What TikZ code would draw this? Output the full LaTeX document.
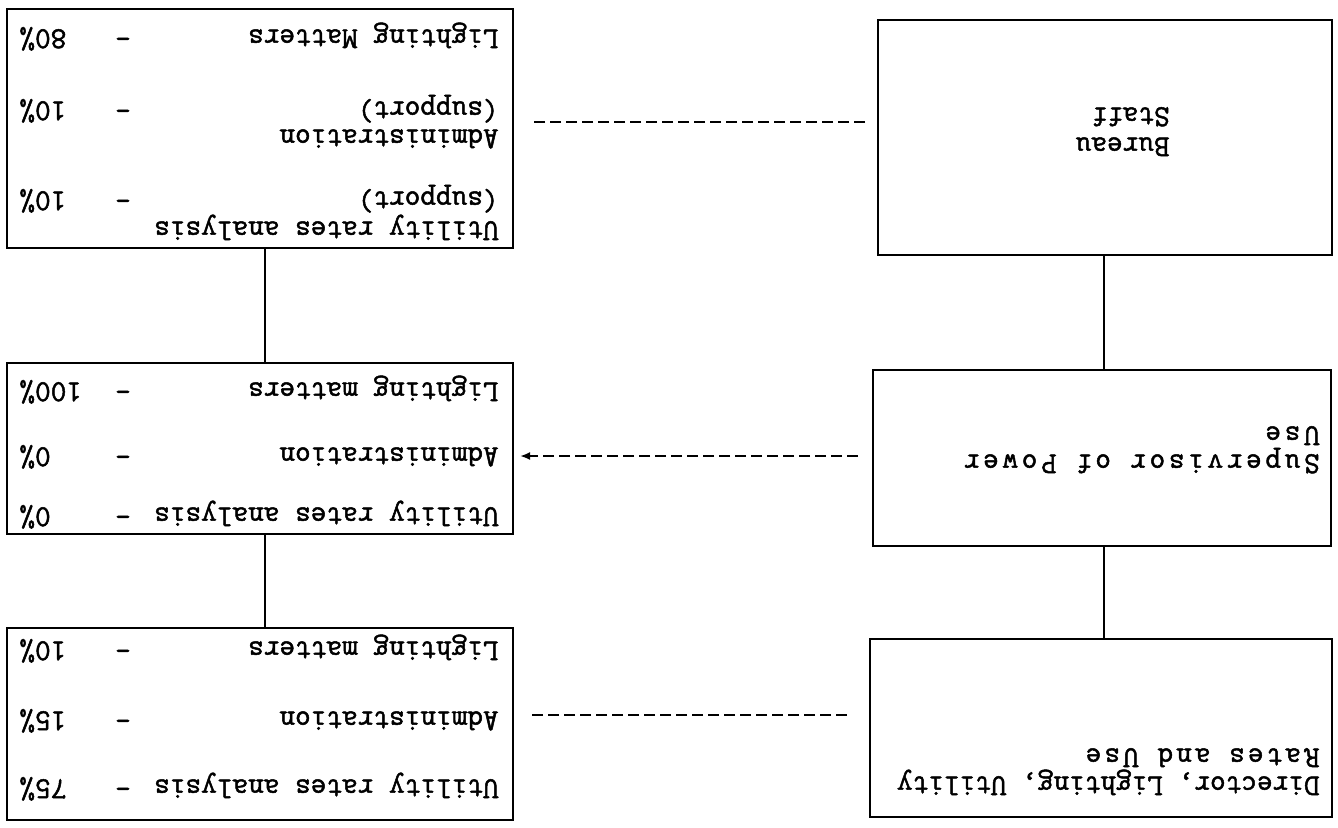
\documentclass[tikz,border=0pt]{standalone}
\usepackage{fontspec}
\newfontfamily\tw[FakeBold=1.6]{Latin Modern Mono}
\usetikzlibrary{arrows.meta}
\begin{document}
\begin{tikzpicture}[x=0.5pt,y=-0.5pt,
  box/.style={draw, line width=1pt, inner sep=0pt, fill=white},
  lbl/.style={rotate=180, anchor=west, inner sep=0pt, text height=8pt, text depth=2.5pt,
              font=\fontsize{15.2}{18}\tw},
  pct/.style={lbl, anchor=east},
  dsh/.style={lbl, anchor=center},
  wide/.style={font=\fontsize{15.2}{18}\tw\addfontfeature{LetterSpace=#1}},
  link/.style={line width=1pt},
  dotline/.style={line width=1.4pt, dash pattern=on 5.5pt off 2.5pt}]
\useasboundingbox (0,0) rectangle (1338,827);
\fill[white] (0,0) rectangle (1338,827);

% left boxes
\node[box, minimum width=253pt, minimum height=119.5pt] (L1) at (260,128.5) {};
\node[box, minimum width=253pt, minimum height=85.5pt] (L2) at (260,448.5) {};
\node[box, minimum width=253pt, minimum height=96pt] (L3) at (260,724) {};
% right boxes
\node[box, minimum width=227pt, minimum height=117.5pt] (R1) at (1105,137.5) {};
\node[box, minimum width=229pt, minimum height=88pt] (R2) at (1102,458) {};
\node[box, minimum width=231pt, minimum height=89pt] (R3) at (1101,728) {};

% vertical links
\coordinate (cl) at (265,0);
\coordinate (cr) at (1104,0);
\draw[link] (L1.south -| cl) -- (L2.north -| cl);
\draw[link] (L2.south -| cl) -- (L3.north -| cl);
\draw[link] (R1.south -| cr) -- (R2.north -| cr);
\draw[link] (R2.south -| cr) -- (R3.north -| cr);

% dashed links
\coordinate (d1a) at (865,122);
\coordinate (d1b) at (533,122);
\coordinate (d2a) at (858,456);
\coordinate (d2b) at (520,456);
\coordinate (d3a) at (847,715);
\coordinate (d3b) at (530,715);
\draw[dotline] (d1a) -- (d1b);
\draw[dotline, -{Latex[length=5pt,width=4pt]}] (d2a) -- (d2b);
\draw[dotline] (d3a) -- (d3b);

% L1 texts
\node[lbl] (t1a) at (499,35) {Lighting Matters};
\node[dsh] (m1a) at (123,35) {-};
\node[pct] (p1a) at (19,35) {80\%};
\node[lbl] (t1b) at (499,107) {(support)};
\node[lbl] (t1c) at (499,135) {Administration};
\node[dsh] (m1b) at (123,107) {-};
\node[pct] (p1b) at (19,107) {10\%};
\node[lbl] (t1d) at (499,197) {(support)};
\node[lbl] (t1e) at (499,227) {Utility rates analysis};
\node[dsh] (m1c) at (123,197) {-};
\node[pct] (p1c) at (19,197) {10\%};

% L2 texts
\node[lbl] (t2a) at (499,388) {Lighting matters};
\node[dsh] (m2a) at (123,388) {-};
\node[pct] (p2a) at (19,388) {100\%};
\node[lbl] (t2b) at (499,453) {Administration};
\node[dsh] (m2b) at (123,453) {-};
\node[pct] (p2b) at (19,453) {0\%};
\node[lbl] (t2c) at (499,513) {Utility rates analysis};
\node[dsh] (m2c) at (123,513) {-};
\node[pct] (p2c) at (19,513) {0\%};

% L3 texts
\node[lbl] (t3a) at (499,647) {Lighting matters};
\node[dsh] (m3a) at (123,647) {-};
\node[pct] (p3a) at (19,647) {10\%};
\node[lbl] (t3b) at (499,717) {Administration};
\node[dsh] (m3b) at (123,717) {-};
\node[pct] (p3b) at (19,717) {15\%};
\node[lbl] (t3c) at (499,785) {Utility rates analysis};
\node[dsh] (m3c) at (123,785) {-};
\node[pct] (p3c) at (19,785) {75\%};

% right texts
\node[lbl] (r1a) at (1170,143) {Bureau};
\node[lbl] (r1b) at (1170,113) {Staff};
\node[lbl, wide=12] (r2a) at (1320,460) {Supervisor of Power};
\node[lbl, wide=12] (r2b) at (1320,432) {Use};
\node[lbl] (r3a) at (1320,782) {Director, Lighting, Utility};
\node[lbl, wide=10] (r3b) at (1320,754) {Rates and Use};
\end{tikzpicture}
\end{document}
